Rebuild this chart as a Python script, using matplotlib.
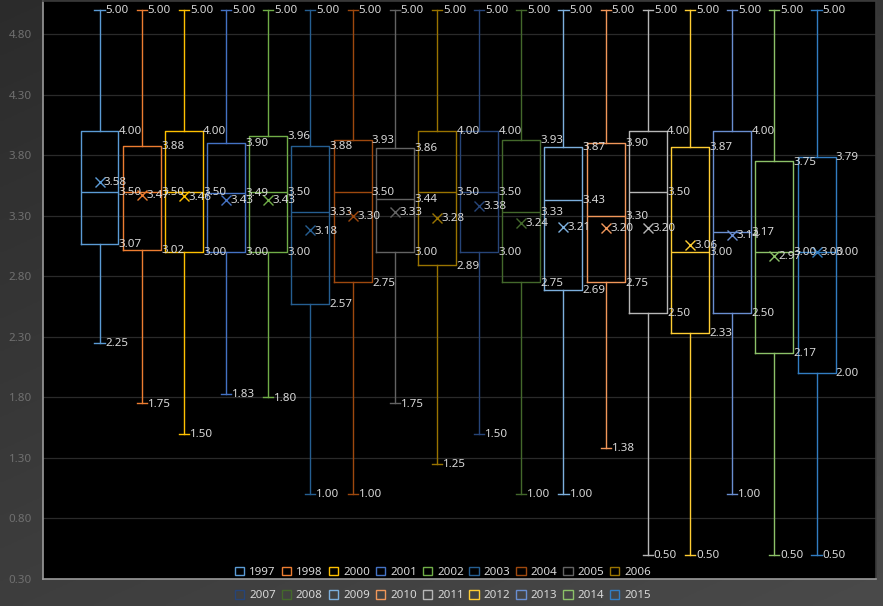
import numpy as np
import matplotlib
matplotlib.use("Agg")
import matplotlib.pyplot as plt
from matplotlib.patches import Patch

plt.rcParams['font.family'] = ['Noto Sans', 'DejaVu Sans']

# ---- data ----
years = ['1997', '1998', '2000', '2001', '2002', '2003', '2004', '2005', '2006',
         '2007', '2008', '2009', '2010', '2011', '2012', '2013', '2014', '2015']
mins = [2.25, 1.75, 1.50, 1.83, 1.80, 1.00, 1.00, 1.75, 1.25,
        1.50, 1.00, 1.00, 1.38, 0.50, 0.50, 1.00, 0.50, 0.50]
q1s = [3.07, 3.02, 3.00, 3.00, 3.00, 2.57, 2.75, 3.00, 2.89,
       3.00, 2.75, 2.69, 2.75, 2.50, 2.33, 2.50, 2.17, 2.00]
medians = [3.50, 3.50, 3.50, 3.49, 3.50, 3.33, 3.50, 3.44, 3.50,
           3.50, 3.33, 3.43, 3.30, 3.50, 3.00, 3.17, 3.00, 3.00]
q3s = [4.00, 3.88, 4.00, 3.90, 3.96, 3.88, 3.93, 3.86, 4.00,
       4.00, 3.93, 3.87, 3.90, 4.00, 3.87, 4.00, 3.75, 3.79]
maxs = [5.00] * 18
means = [3.58, 3.47, 3.46, 3.43, 3.43, 3.18, 3.30, 3.33, 3.28,
         3.38, 3.24, 3.21, 3.20, 3.20, 3.06, 3.14, 2.97, 3.00]
colors = ['#5B9BD5', '#ED7D31', '#FFC000', '#4472C4', '#70AD47', '#255E91',
          '#9E480E', '#636363', '#997300', '#264478', '#43682B', '#7CAFDD',
          '#F1975A', '#B7B7B7', '#FFCD33', '#698ED0', '#8CC168', '#327DC2']
yticks = [0.30, 0.80, 1.30, 1.80, 2.30, 2.80, 3.30, 3.80, 4.30, 4.80]

W, H = 883, 606
fig = plt.figure(figsize=(W / 100, H / 100), dpi=100)

# background gradient
bg = fig.add_axes([0, 0, 1, 1], zorder=-10)
yy, xx = np.mgrid[0:1:200j, 0:1:300j]
g = 0.17 + 0.12 * (0.6 * yy + 0.4 * xx)
bg.imshow(np.dstack([g, g, g]), aspect='auto', extent=[0, 1, 0, 1], origin='upper')
bg.set_axis_off()

L, R, B, T = 43, 876, 579, 1
ax = fig.add_axes([L / W, (H - B) / H, (R - L) / W, (B - T) / H])
ax.set_facecolor('black')

box_w = 0.90
cap_w = 0.24
for i in range(len(years)):
    c = colors[i]
    st = dict(med=medians[i], q1=q1s[i], q3=q3s[i], whislo=mins[i], whishi=maxs[i],
              mean=means[i], fliers=[], label=years[i])
    ax.bxp([st], positions=[i], widths=box_w, capwidths=cap_w, showmeans=True,
           boxprops=dict(color=c, lw=1.0),
           whiskerprops=dict(color=c, lw=1.0),
           capprops=dict(color=c, lw=1.0),
           medianprops=dict(color=c, lw=1.0),
           meanprops=dict(marker='x', markeredgecolor=c, markersize=7,
                          markeredgewidth=1.0, linestyle='none'),
           manage_ticks=False, zorder=3)

lab_kw = dict(textcoords='offset points', ha='left', va='center',
              color='#D9D9D9', fontsize=8.3, zorder=5)
for i in range(len(years)):
    for v in (maxs[i], mins[i]):
        ax.annotate(f'{v:.2f}', xy=(i + cap_w / 2, v), xytext=(0.7, -0.5), **lab_kw)
    for v in (q3s[i], medians[i], q1s[i]):
        ax.annotate(f'{v:.2f}', xy=(i + box_w / 2, v), xytext=(0.3, -0.5), **lab_kw)
    ax.annotate(f'{means[i]:.2f}', xy=(i, means[i]), xytext=(3.2, -0.5), **lab_kw)

ax.set_xlim(-1.34, 18.41)
ax.set_ylim(0.30, 5.075)
ax.set_yticks(yticks)
ax.set_yticklabels([f'{t:.2f}' for t in yticks])
ax.set_xticks([])
ax.tick_params(axis='y', length=0, pad=8, labelcolor='#707070', labelsize=8.3)
ax.grid(axis='y', color='#2a2a2a', lw=0.9, zorder=0)
ax.set_axisbelow(True)
for s in ('top', 'right'):
    ax.spines[s].set_color('#3a3a3a')
for s in ('left', 'bottom'):
    ax.spines[s].set_color('#9a9a9a')
for s in ax.spines.values():
    s.set_linewidth(1.2)

# legend: two rows, row-major ordering
handles = [Patch(facecolor='none', edgecolor=c, lw=1.0) for c in colors]
order = []
for k in range(9):
    order += [k, k + 9]
leg = fig.legend([handles[k] for k in order], [years[k] for k in order],
                 ncol=9, loc='center', bbox_to_anchor=(443 / W, (H - 584) / H),
                 frameon=False, fontsize=8.3, handlelength=0.8, handleheight=0.8,
                 handletextpad=0.45, columnspacing=0.5, labelspacing=1.05,
                 borderpad=0)
for t in leg.get_texts():
    t.set_color('#D9D9D9')

fig.savefig('out.png', dpi=100, facecolor=fig.get_facecolor())
